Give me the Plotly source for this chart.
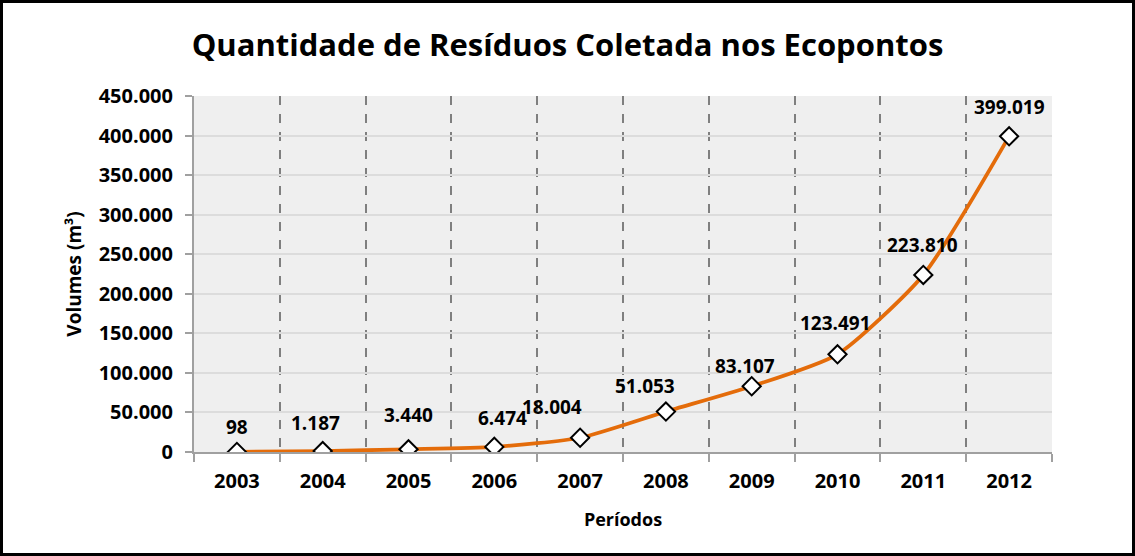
import plotly.graph_objects as go

years = ["2003", "2004", "2005", "2006", "2007", "2008", "2009", "2010", "2011", "2012"]
volumes = [98, 1187, 3440, 6474, 18004, 51053, 83107, 123491, 223810, 399019]
y_ticks = [0, 50000, 100000, 150000, 200000, 250000, 300000, 350000, 400000, 450000]

# label offsets in pixels (x, y) relative to each point
label_dx = [0, -7, 0, 8, -28, -21, -7, -2, -1, 0]
label_dy = [-25, -28, -34, -29, -31, -26, -20, -31, -30, -29]

FONT = "Open Sans"
ORANGE = "#E46C0A"

def fmt(v):
    return f"{v:,}".replace(",", ".")

fig = go.Figure()
fig.add_trace(go.Scatter(
    x=years, y=volumes, mode="lines+markers",
    line=dict(color=ORANGE, width=3.8, shape="spline", smoothing=0.6),
    marker=dict(symbol="diamond", size=14, color="white",
                line=dict(color="black", width=2)),
    hoverinfo="x+y", showlegend=False,
))

for i, v in enumerate(volumes):
    fig.add_annotation(x=i, y=v, xref="x", yref="y", text=fmt(v), showarrow=False,
                       xshift=label_dx[i], yshift=-label_dy[i],
                       font=dict(family=FONT, size=19, color="black", weight="bold"))

W, H = 1135, 556
L, R, T, B = 194, 83, 96, 104
pw, ph = W - L - R, H - T - B

def px_x(p):
    return (p - L) / pw

def px_y(p):
    return (H - B - p) / ph

fig.add_shape(type="rect", xref="paper", yref="paper",
              x0=px_x(1.5), x1=px_x(1133.5), y0=px_y(554.5), y1=px_y(1.5),
              line=dict(color="black", width=3), fillcolor="rgba(0,0,0,0)", layer="above")

fig.update_layout(
    width=W, height=H,
    margin=dict(l=L, r=R, t=T, b=B, autoexpand=False),
    paper_bgcolor="white", plot_bgcolor="#EFEFEF",
    separators=",.",
    title=dict(text="<b>Quantidade de Resíduos Coletada nos Ecopontos</b>",
               x=0.5, xref="container", xanchor="center",
               y=1 - 45 / H, yref="container", yanchor="middle",
               font=dict(family=FONT, size=31, color="black")),
    font=dict(family=FONT, color="black"),
)

fig.update_xaxes(
    type="category", tickson="boundaries",
    showgrid=True, gridcolor="#7F7F7F", griddash="dash", gridwidth=1.5,
    showline=True, linecolor="#A0A0A0", linewidth=2,
    ticks="outside", ticklen=8, tickcolor="#A0A0A0", tickwidth=1.5,
    tickfont=dict(family=FONT, size=20, color="black", weight="bold"),
    ticklabelstandoff=10,
    title=dict(text="<b>Períodos</b>", font=dict(family=FONT, size=18, color="black"), standoff=20),
    range=[-0.5, 9.5], automargin=False,
)

fig.update_yaxes(
    range=[0, 450000], tickvals=y_ticks, tickformat=",d",
    showgrid=True, gridcolor="#DCDCDC", gridwidth=1.5, zeroline=False,
    showline=True, linecolor="#A0A0A0", linewidth=2,
    ticks="outside", ticklen=7, tickcolor="#A0A0A0", tickwidth=1.5,
    tickfont=dict(family=FONT, size=20, color="black", weight="bold"),
    ticklabelstandoff=8,
    title=dict(text="<b>Volumes (m³)</b>", font=dict(family=FONT, size=19, color="black"), standoff=12),
    automargin=False,
)

fig.write_html("out.html", config={"displayModeBar": False},
               post_script="document.body.style.margin='0';document.body.style.overflow='hidden';")
